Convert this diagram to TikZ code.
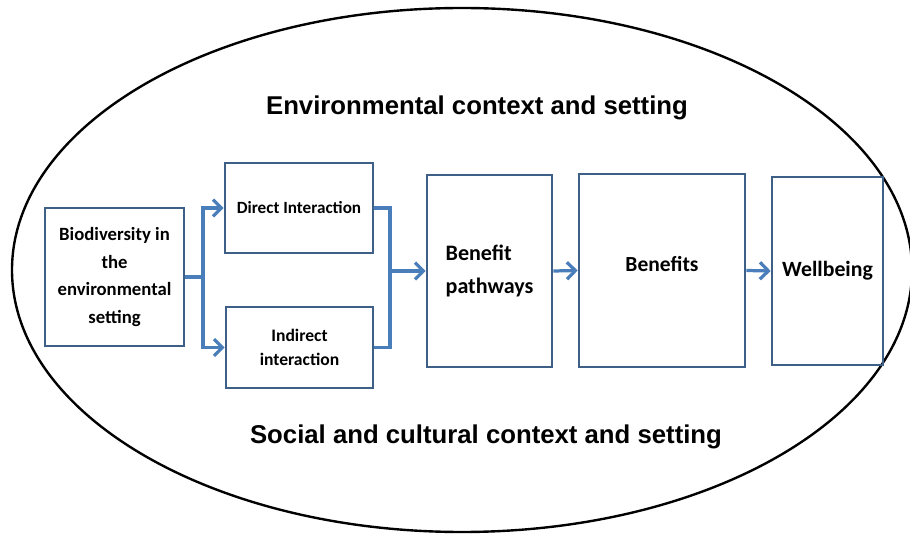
\documentclass[tikz,border=0pt]{standalone}
\usepackage{fontspec}
\setmainfont{Carlito}
\newfontfamily\headfont{Liberation Sans}
\usetikzlibrary{arrows.meta}
\definecolor{boxblue}{HTML}{3E5F86}
\definecolor{arrblue}{HTML}{4A7EBB}
\newcommand{\px}{0.025cm}

\begin{document}
\begin{tikzpicture}[x=0.025cm, y=-0.025cm]
    % stage boxes
    \tikzstyle{box}=[draw=boxblue, line width=1.9pt, inner sep=0, align=center, font=\bfseries]
    % connectors
    \tikzstyle{lnk}=[draw=arrblue, line width=2.3pt]
    \tikzstyle{arr}=[lnk, -{Straight Barb[length=6pt, width=12pt, line width=2.3pt]}]
    % context headings
    \tikzstyle{head}=[font=\headfont\bfseries\fontsize{18.3}{22}\selectfont]
    \useasboundingbox (0,0) rectangle (910,537);
    \draw[line width=1.7pt] (462,270) ellipse [x radius=450, y radius=262];
    \node[head] (env) at (477,108) {Environmental context and setting};
    \node[head] (soc) at (486,437) {Social and cultural context and setting};
    % chain of boxes
    \node[box, minimum width=139*\px, minimum height=138*\px,
          font=\bfseries\fontsize{13.3}{19.5}\selectfont] (bio) at (114.5,277)
          {Biodiversity in\\the\\environmental\\setting};
    \node[box, minimum width=148*\px, minimum height=90*\px,
          font=\bfseries\fontsize{12.2}{14}\selectfont] (direct) at (299,208)
          {Direct Interaction};
    \node[box, minimum width=147*\px, minimum height=81*\px,
          font=\bfseries\fontsize{12.5}{16.5}\selectfont] (indirect) at (299.5,347.5)
          {Indirect\\interaction};
    \node[box, minimum width=125*\px, minimum height=192*\px, align=left,
          font=\bfseries\fontsize{15.7}{23.5}\selectfont] (path) at (489.5,271)
          {Benefit\\pathways};
    \node[box, minimum width=166*\px, minimum height=193*\px,
          font=\bfseries\fontsize{15.3}{17}\selectfont] (benefits) at (662,270.5)
          {\raisebox{10pt}{Benefits}};
    \node[box, minimum width=111*\px, minimum height=188*\px,
          font=\bfseries\fontsize{15.5}{17}\selectfont] (well) at (827.5,271)
          {Wellbeing};
    % split and merge
    \coordinate (split) at (203,277);
    \coordinate (merge) at (390,271);
    \draw[lnk] (bio.east) -- (split);
    \draw[arr] (split) |- (direct.west);
    \draw[arr] (split) |- (indirect.west);
    \draw[lnk] (direct.east) -| (merge);
    \draw[lnk] (indirect.east) -| (merge);
    \draw[arr] (merge) -- (path.west);
    \draw[arr] (path.east) -- (benefits.west);
    \draw[arr] (benefits.east) -- (well.west);
\end{tikzpicture}
\end{document}
